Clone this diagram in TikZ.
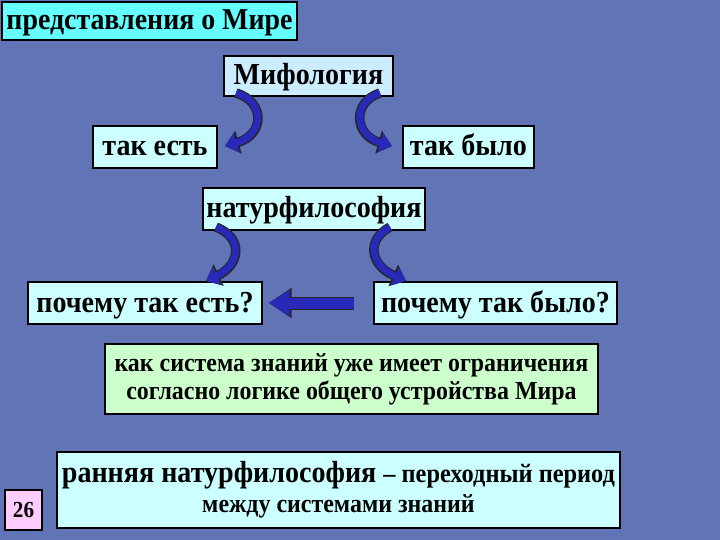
\documentclass[tikz,border=0pt]{standalone}
\usepackage{fontspec}
\setmainfont{Liberation Serif}[FakeStretch=0.92]
\usetikzlibrary{arrows.meta}
\definecolor{bgblue}{RGB}{96,116,182}
\definecolor{arrblue}{RGB}{40,40,185}
\definecolor{tcyan}{RGB}{102,255,255}
\definecolor{lblue}{RGB}{204,236,255}
\definecolor{lcyan}{RGB}{204,255,255}
\definecolor{lgreen}{RGB}{204,255,204}
\definecolor{lpink}{RGB}{255,204,255}
\tikzset{
  box/.style={draw=black, line width=1.4pt, inner sep=0pt, align=center,
    font=\bfseries\fontsize{30.5}{32}\selectfont},
  oneline/.style={text height=22pt, text depth=4pt},
  curv/.style={draw=arrblue, line width=7pt, -{Triangle[width=19pt,length=12pt]},
    preaction={draw=black!85, line width=9.5pt, -{Triangle[width=23pt,length=14pt]}}},
  straight/.style={draw=arrblue, line width=11pt, -{Triangle[width=25pt,length=21pt]},
    preaction={draw=black!85, line width=13pt, -{Triangle[width=29pt,length=23pt]}}}
}
\begin{document}
\begin{tikzpicture}[x=1pt,y=-1pt]
\fill[bgblue] (0,0) rectangle (720,540);
\useasboundingbox (0,0) rectangle (720,540);

\node[box, oneline, fill=tcyan, minimum width=295pt, minimum height=38pt, font=\bfseries\fontsize{30.3}{32}\selectfont] (title) at (149.5,21) {представления о Мире};
\node[box, oneline, fill=lblue, minimum width=169pt, minimum height=40pt] (myth) at (308.5,76) {Мифология};
\node[box, oneline, fill=lcyan, minimum width=124pt, minimum height=42pt] (est) at (155,147) {так есть};
\node[box, oneline, fill=lcyan, minimum width=131pt, minimum height=42pt] (bylo) at (468.5,147) {так было};
\node[box, oneline, fill=lcyan, minimum width=222pt, minimum height=42pt] (natur) at (314,209) {натурфилософия};
\node[box, oneline, fill=lcyan, minimum width=234pt, minimum height=42pt] (pest) at (145,303) {почему так есть?};
\node[box, oneline, fill=lcyan, minimum width=243pt, minimum height=42pt] (pbylo) at (495.5,303) {почему так было?};
\node[box, fill=lgreen, minimum width=493pt, minimum height=70pt, font=\bfseries\fontsize{26}{29}\selectfont] (kak) at (351.5,379) {как система знаний уже имеет ограничения\\[-1pt]согласно логике общего устройства Мира};
\node[box, fill=lcyan, minimum width=563pt, minimum height=76pt] (early) at (338.5,490) {ранняя натурфилософия {\fontsize{26.5}{28}\selectfont – переходный период}\\[-2pt]{\fontsize{26}{28}\selectfont между системами знаний}};
\node[box, fill=lpink, minimum width=37pt, minimum height=40pt, font=\bfseries\fontsize{23}{24}\selectfont] (num) at (23.5,510) {26};

\draw[curv] (236,93) .. controls (266,102) and (264,135) .. (225,146);
\draw[curv] (380,93) .. controls (352,102) and (354,135) .. (392,146);
\draw[curv] (216,227) .. controls (244,238) and (240,265) .. (206,281);
\draw[curv] (390,227) .. controls (366,240) and (370,265) .. (406,281);
\draw[straight, shorten <=19pt, shorten >=6pt] (pbylo.west) -- (pest.east);
\end{tikzpicture}
\end{document}
